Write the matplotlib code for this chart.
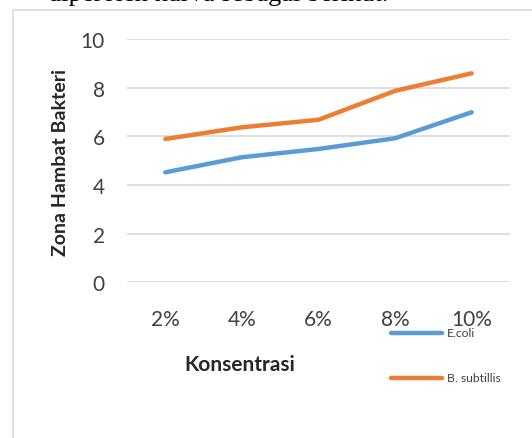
import matplotlib
matplotlib.use("Agg")
import matplotlib.pyplot as plt
from matplotlib.lines import Line2D

categories = ["2%", "4%", "6%", "8%", "10%"]
ecoli = [4.52, 5.14, 5.48, 5.92, 6.99]
bsub = [5.89, 6.37, 6.68, 7.87, 8.59]
yticks = [0, 2, 4, 6, 8, 10]

W, H = 532, 439
fig = plt.figure(figsize=(W / 100, H / 100), dpi=100)
plt.rcParams['font.family'] = ['Lato', 'DejaVu Sans']

def fx(px):
    return px / W

def fy(py):
    return 1 - py / H

# caption text cut off at top
fig.text(fx(48), fy(1.5), "diperoleh kurva sebagai berikut.", family="Liberation Serif",
         fontsize=19, color="black", ha="left", va="baseline")

# outer frame (open right/bottom)
fig.add_artist(Line2D([fx(13), fx(13), fx(532)], [fy(439), fy(11), fy(11)],
                      color="#D9D9D9", lw=1.2, transform=fig.transFigure))

ax = fig.add_axes([fx(127), fy(283.3), fx(510) - fx(127), fy(40) - fy(283.3)])
x = list(range(len(categories)))
l1, = ax.plot(x, ecoli, color="#5B9BD5", lw=3.2, solid_capstyle="round", label="E.coli")
l2, = ax.plot(x, bsub, color="#ED7D31", lw=3.2, solid_capstyle="round", label="B. subtillis")
ax.set_xlim(-0.5, len(categories) - 0.5)
ax.set_ylim(0, 10)
ax.set_yticks(yticks)
ax.set_xticks(x)
ax.set_xticklabels(categories)
ax.yaxis.grid(True, color="#D9D9D9", lw=1.2)
ax.set_axisbelow(True)
for s in ax.spines.values():
    s.set_visible(False)
ax.tick_params(axis="both", length=0, labelsize=15, colors="#404040")
ax.tick_params(axis="y", pad=16)
ax.tick_params(axis="x", pad=19)

fig.text(fx(60), fy(163), "Zona Hambat Bakteri", rotation=90, ha="center", va="center",
         fontsize=14, fontweight="bold", color="#262626")
fig.text(fx(240), fy(365), "Konsentrasi", ha="center", va="center",
         fontsize=15, fontweight="bold", color="#262626")

# legend
for yy, ln, lab in [(334, l1, "E.coli"), (379, l2, "B. subtillis")]:
    fig.add_artist(Line2D([fx(391), fx(442)], [fy(yy), fy(yy)], color=ln.get_color(), lw=3.2,
                          solid_capstyle="round", transform=fig.transFigure))
    fig.text(fx(447), fy(yy), lab, ha="left", va="center", fontsize=8.7, color="#404040")

fig.savefig("out.png", dpi=100)
